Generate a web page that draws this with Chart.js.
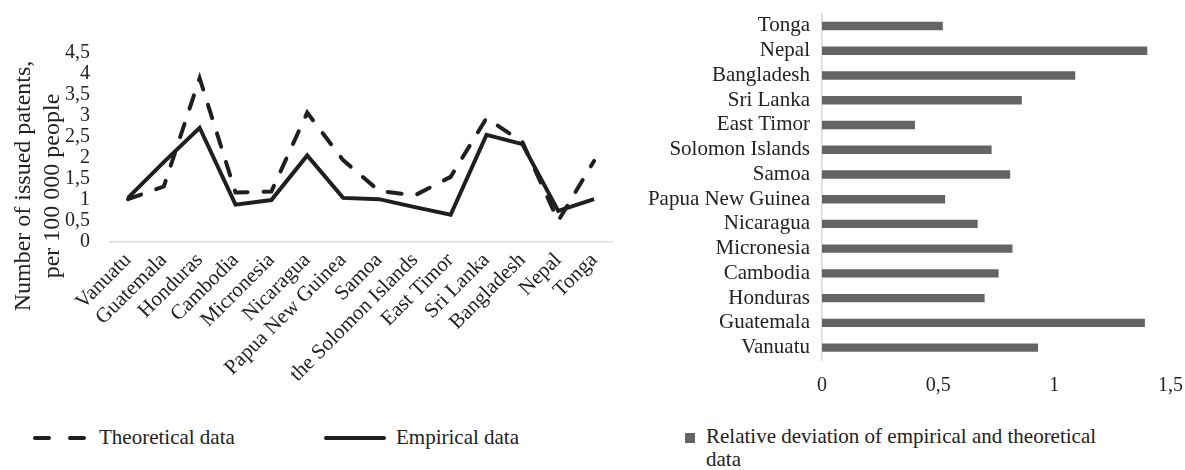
<!DOCTYPE html>
<html>
<head>
<meta charset="utf-8">
<script src="https://cdn.jsdelivr.net/npm/chart.js@4.4.1/dist/chart.umd.min.js"></script>
<style>
  body { margin: 0; background: #fff; width: 1185px; height: 470px; position: relative; overflow: hidden;
         font-family: 'Liberation Serif', 'Times New Roman', serif; color: #222; }
  canvas { position: absolute; }
  #lineChart { left: 0; top: 0; }
  #barChart { left: 640px; top: -11px; }
  .ytitle { position: absolute; left: 37px; top: 186px; width: 330px; transform: translate(-50%, -50%) rotate(-90deg);
            text-align: center; font-size: 24px; line-height: 29px; white-space: nowrap; }
  .leg { position: absolute; font-size: 21px; line-height: 23px; white-space: nowrap; }
  .seg { position: absolute; height: 4px; background: #1f1f1f; border-radius: 2px; }
  .sq { position: absolute; width: 10px; height: 10px; background: #646464; }
</style>
</head>
<body>
<canvas id="lineChart" width="625" height="420"></canvas>
<canvas id="barChart" width="557" height="411"></canvas>

<div class="ytitle">Number of issued patents,<br>per 100 000 people</div>

<!-- left legend -->
<div class="seg" style="left:33px; top:436px; width:18px"></div>
<div class="seg" style="left:68px; top:436px; width:18px"></div>
<div class="leg" style="left:99px; top:426px">Theoretical data</div>
<div class="seg" style="left:324px; top:436px; width:62px"></div>
<div class="leg" style="left:396px; top:426px">Empirical data</div>

<!-- right legend -->
<div class="sq" style="left:685px; top:433px"></div>
<div class="leg" style="left:706px; top:425px">Relative deviation of empirical and theoretical<br>data</div>

<script>
// line chart data
const countries = ['Vanuatu', 'Guatemala', 'Honduras', 'Cambodia', 'Micronesia', 'Nicaragua', 'Papua New Guinea',
  'Samoa', 'the Solomon Islands', 'East Timor', 'Sri Lanka', 'Bangladesh', 'Nepal', 'Tonga'];
const theoretical = [1.02, 1.32, 3.9, 1.18, 1.2, 3.08, 1.95, 1.22, 1.11, 1.55, 2.95, 2.38, 0.5, 1.93];
const empirical = [1.05, 1.9, 2.72, 0.89, 1.0, 2.06, 1.05, 1.02, 0.83, 0.65, 2.55, 2.33, 0.74, 1.02];
const lineTicks = [0, 0.5, 1, 1.5, 2, 2.5, 3, 3.5, 4, 4.5];

// bar chart data
const barCountries = ['Vanuatu', 'Guatemala', 'Honduras', 'Cambodia', 'Micronesia', 'Nicaragua', 'Papua New Guinea',
  'Samoa', 'Solomon Islands', 'East Timor', 'Sri Lanka', 'Bangladesh', 'Nepal', 'Tonga'];
const deviation = [0.93, 1.39, 0.70, 0.76, 0.82, 0.67, 0.53, 0.81, 0.73, 0.40, 0.86, 1.09, 1.40, 0.52];
const barTicks = [0, 0.5, 1, 1.5];

const family = "'Liberation Serif', 'Times New Roman', serif";
const tickFont = { family: family, size: 20 };
const labelFont = { family: family, size: 21 };
const textColor = '#222';
const comma = v => String(v).replace('.', ',');

new Chart(document.getElementById('lineChart'), {
  type: 'line',
  data: {
    labels: countries,
    datasets: [{
      label: 'Theoretical data',
      data: theoretical,
      borderColor: '#1f1f1f',
      borderWidth: 4,
      borderDash: [14, 16],
      borderCapStyle: 'round',
      pointRadius: 0,
      tension: 0
    }, {
      label: 'Empirical data',
      data: empirical,
      borderColor: '#1f1f1f',
      borderWidth: 4,
      pointRadius: 0,
      tension: 0
    }]
  },
  options: {
    responsive: false,
    animation: false,
    layout: { padding: { top: 53, right: 13 } },
    plugins: { legend: { display: false }, tooltip: { enabled: false } },
    scales: {
      x: {
        offset: true,
        grid: { display: false, drawTicks: false },
        border: { display: true, color: '#d9d9d9', width: 1.5 },
        ticks: { font: labelFont, color: textColor, minRotation: 45, maxRotation: 45, autoSkip: false, padding: 6 },
        afterFit: s => { s.height = 178; }
      },
      y: {
        min: 0,
        max: 4.5,
        grid: { display: false, drawTicks: false },
        border: { display: false },
        afterBuildTicks: s => { s.ticks = lineTicks.map(v => ({ value: v })); },
        ticks: { font: tickFont, color: textColor, padding: 20, autoSkip: false, callback: comma },
        afterFit: s => { s.width = 110; }
      }
    }
  }
});

new Chart(document.getElementById('barChart'), {
  type: 'bar',
  data: {
    labels: barCountries,
    datasets: [{
      label: 'Relative deviation of empirical and theoretical data',
      data: deviation,
      backgroundColor: '#646464',
      barPercentage: 0.34,
      categoryPercentage: 1
    }]
  },
  options: {
    indexAxis: 'y',
    responsive: false,
    animation: false,
    layout: { padding: { top: 0 } },
    plugins: { legend: { display: false }, tooltip: { enabled: false } },
    scales: {
      y: {
        reverse: true,
        grid: { display: false, drawTicks: false },
        border: { display: true, color: '#d9d9d9', width: 1.5 },
        ticks: { font: labelFont, color: textColor, padding: 12, autoSkip: false },
        afterFit: s => { s.width = 182; }
      },
      x: {
        min: 0,
        max: 1.5,
        grid: { display: false, drawTicks: false },
        border: { display: false },
        afterBuildTicks: s => { s.ticks = barTicks.map(v => ({ value: v })); },
        ticks: { font: tickFont, color: textColor, padding: 14, autoSkip: false, callback: comma },
        afterFit: s => { s.height = 40; }
      }
    }
  }
});
</script>
</body>
</html>
